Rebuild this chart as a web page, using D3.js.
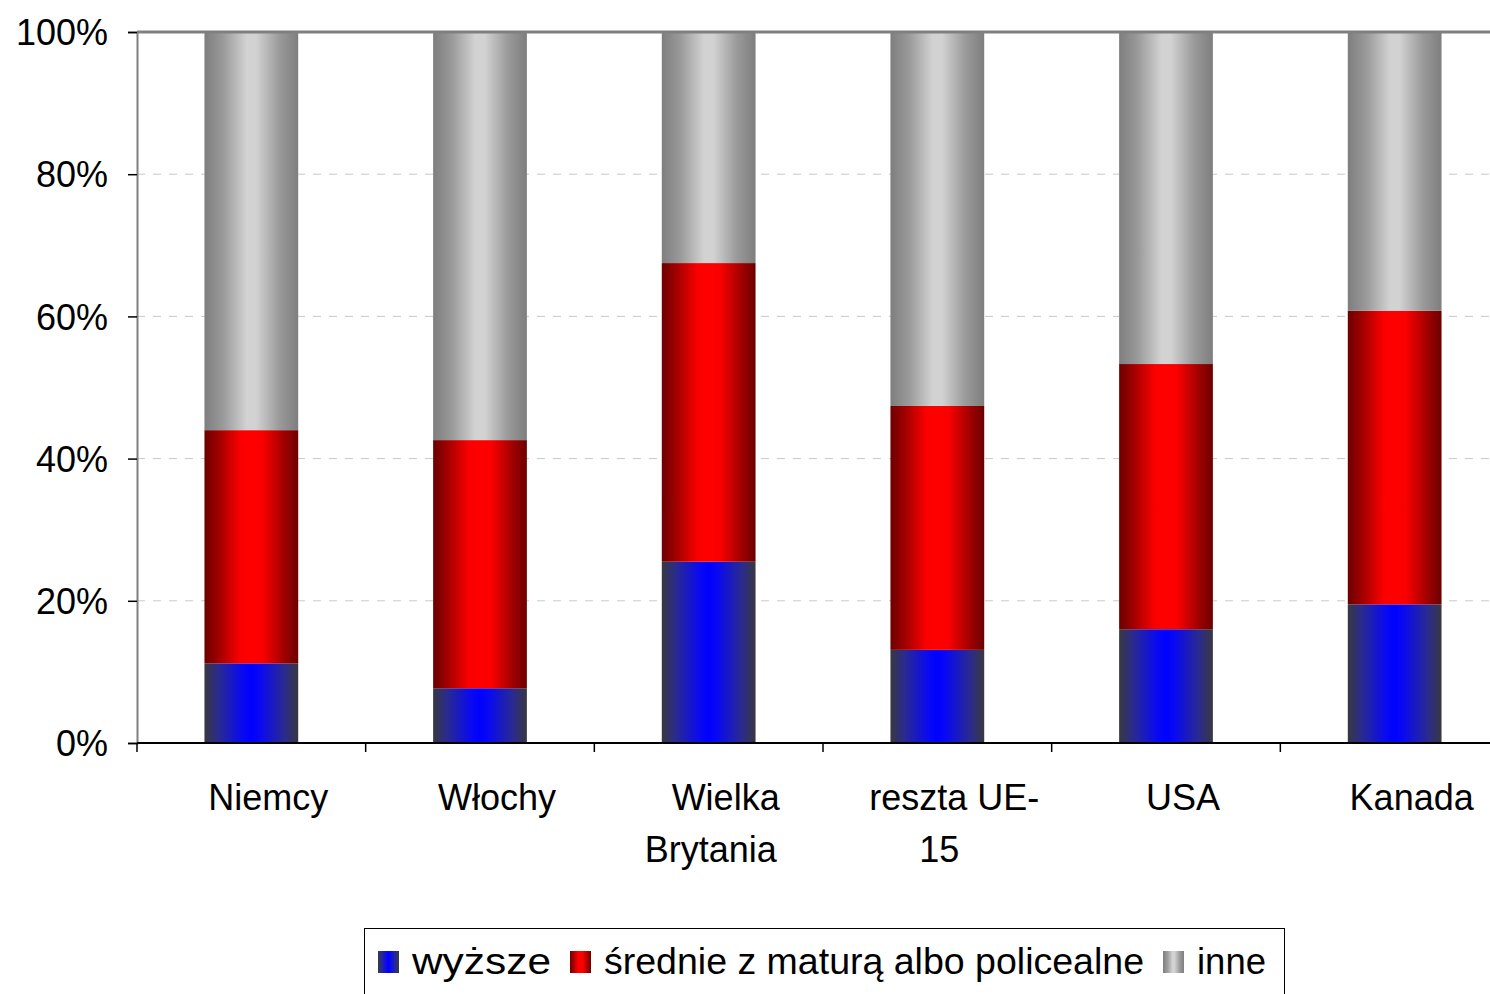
<!DOCTYPE html>
<html><head><meta charset="utf-8">
<script src="https://cdn.jsdelivr.net/npm/d3@7"></script>
<style>
html,body{margin:0;padding:0;background:#fff;}
svg{display:block;font-family:"Liberation Sans",Arial,sans-serif;}
</style></head>
<body><svg id="c" width="1490" height="994"></svg>
<script>
const categories = ["Niemcy","Włochy","Wielka Brytania","reszta UE-15","USA","Kanada"];
const categoryLines = [["Niemcy"],["Włochy"],["Wielka","Brytania"],["reszta UE-","15"],["USA"],["Kanada"]];
const wyzsze  = [11.2, 7.7, 25.5, 13.1, 16.0, 19.5];
const srednie = [32.8, 34.9, 42.0, 34.3, 37.3, 41.3];
const inne    = [56.0, 57.4, 32.5, 52.6, 46.7, 39.2];
const seriesNames = ["wyższe","średnie z maturą albo policealne","inne"];
const yTicks = [0,20,40,60,80,100];

(function(){
const svg = d3.select("#c");
const defs = svg.append("defs");
function grad(id, stops){
  const g = defs.append("linearGradient").attr("id",id).attr("x1","0%").attr("x2","100%").attr("y1","0%").attr("y2","0%");
  stops.forEach(s=>g.append("stop").attr("offset",s[0]).attr("stop-color",s[1]));
}
grad("gBlue",[["0%","#383840"],["15%","#2a2a90"],["40%","#0a0af0"],["50%","#0000ff"],["60%","#0a0af0"],["85%","#2a2a90"],["100%","#383840"]]);
grad("gRed",[["0%","#6c0000"],["15%","#a00000"],["38%","#fa0000"],["50%","#ff0000"],["62%","#fa0000"],["85%","#a00000"],["100%","#6c0000"]]);
grad("gGray",[["0%","#7e7e7e"],["20%","#9a9a9a"],["45%","#d2d2d2"],["55%","#d2d2d2"],["80%","#9a9a9a"],["100%","#7e7e7e"]]);
const fills = ["url(#gBlue)","url(#gRed)","url(#gGray)"];

const pLeft = 137, pTop = 32, pBottom = 743, pRight = 1509;
const pad = 0.59;
const x = d3.scaleBand().domain(categories).range([pLeft,pRight]).paddingInner(pad).paddingOuter(pad/2);
const y = d3.scaleLinear().domain([0,100]).range([pBottom,pTop]);

// gridlines
svg.append("g").selectAll("line").data(yTicks.filter(t=>t>0&&t<100)).join("line")
  .attr("x1",pLeft).attr("x2",1490).attr("y1",d=>y(d)).attr("y2",d=>y(d))
  .attr("stroke","#c8c8c8").attr("stroke-width",1).attr("stroke-dasharray","8,8");

// stacked data
const rows = categories.map((c,i)=>({cat:c, wyzsze:wyzsze[i], srednie:srednie[i], inne:inne[i]}));
const stack = d3.stack().keys(["wyzsze","srednie","inne"])(rows);
svg.append("g").selectAll("g").data(stack).join("g")
  .attr("fill",(d,i)=>fills[i])
  .selectAll("rect").data(d=>d).join("rect")
  .attr("x",d=>x(d.data.cat)).attr("width",x.bandwidth())
  .attr("y",d=>y(d[1])).attr("height",d=>y(d[0])-y(d[1]));

// top border
svg.append("line").attr("x1",pLeft).attr("x2",1490).attr("y1",pTop).attr("y2",pTop)
  .attr("stroke","#808080").attr("stroke-width",3);
// left axis
const yAxis = d3.axisLeft(y).tickValues(yTicks).tickSize(9).tickFormat(d=>d+"%");
const gy = svg.append("g").attr("transform",`translate(${pLeft},0)`).call(yAxis);
gy.select(".domain").attr("stroke","#808080").attr("stroke-width",2);
gy.selectAll(".tick line").attr("stroke","#000").attr("stroke-width",1.5);
gy.selectAll(".tick text").attr("font-size",36).attr("font-family","'Liberation Sans',Arial,sans-serif")
  .attr("fill","#000").attr("x",-29).attr("dy","0.35em");

// bottom axis
svg.append("line").attr("x1",pLeft).attr("x2",1490).attr("y1",pBottom).attr("y2",pBottom)
  .attr("stroke","#000").attr("stroke-width",2);
const step = x.step();
const bounds = categories.map(c=>x(c) - step*pad/2);
svg.append("g").selectAll("line").data(bounds).join("line")
  .attr("x1",d=>d).attr("x2",d=>d).attr("y1",pBottom).attr("y2",pBottom+9)
  .attr("stroke","#000").attr("stroke-width",1.5);

// category labels
const lineOffsets = [17, 2];
const gl = svg.append("g").attr("font-size",36).attr("fill","#000").attr("text-anchor","middle");
categories.forEach((c,i)=>{
  const cx = x(c) + x.bandwidth()/2;
  categoryLines[i].forEach((ln,j)=>{
    gl.append("text").attr("x",cx + lineOffsets[j]).attr("y",810 + j*52).text(ln);
  });
});

// legend
const lg = svg.append("g");
lg.append("rect").attr("x",364.5).attr("y",928.5).attr("width",920).attr("height",80)
  .attr("fill","#fff").attr("stroke","#000").attr("stroke-width",1);
const legendX = [378, 570, 1163];
const legendTextLen = [139, 540, 69];
seriesNames.forEach((n,i)=>{
  lg.append("rect").attr("x",legendX[i]).attr("y",951).attr("width",21).attr("height",22).attr("fill",fills[i]);
  lg.append("text").attr("x",legendX[i]+34).attr("y",974).attr("font-size",36).attr("fill","#000")
    .attr("textLength",legendTextLen[i]).attr("lengthAdjust","spacingAndGlyphs").text(n);
});
})();
</script></body></html>
